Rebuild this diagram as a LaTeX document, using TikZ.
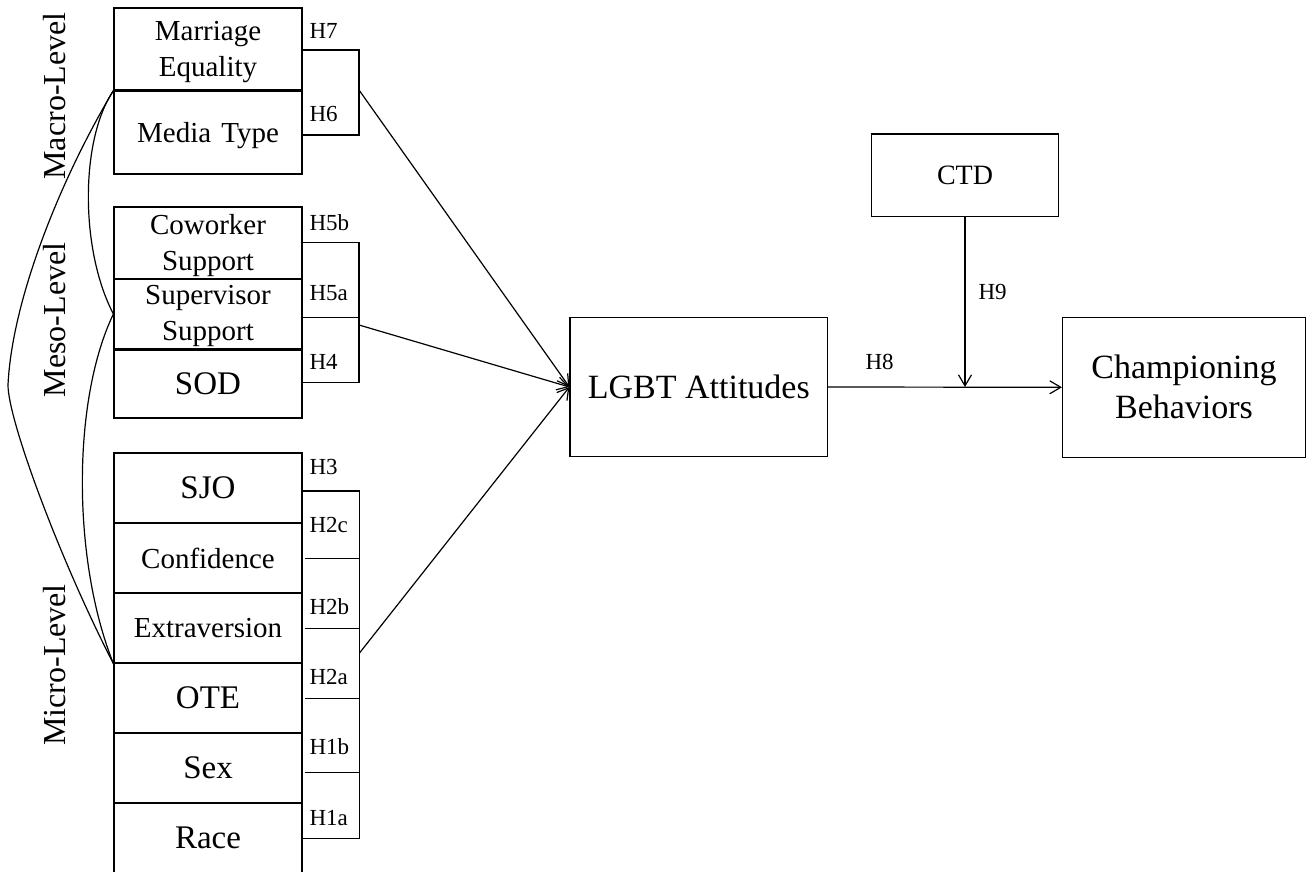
\documentclass[tikz,border=0pt]{standalone}
\usepackage{fontspec}
\setmainfont{Liberation Serif}
\usetikzlibrary{arrows.meta}
\begin{document}
\begin{tikzpicture}[x=0.5pt,y=-0.5pt,line width=0.6pt,
  box/.style={draw, line width=0.6pt, inner sep=0pt, align=center, minimum width=94pt},
  sfont/.style={font=\fontsize{14.5pt}{18pt}\selectfont},
  bfont/.style={font=\fontsize{16.5pt}{20pt}\selectfont},
  hl/.style={font=\fontsize{11.5pt}{13pt}\selectfont, inner sep=0pt, anchor=west},
  lvl/.style={font=\fontsize{16pt}{18pt}\selectfont, rotate=90, inner sep=0pt},
  arr/.style={-{Straight Barb[length=5.5pt,width=6.5pt]}, line width=0.6pt},
  thickdiv/.style={line width=1.4pt}
]
\useasboundingbox (0,0) rectangle (1307,872);

% ---------- Macro level ----------
\node[box, sfont, minimum height=41pt] (me) at (208,49) {\rule{0pt}{13pt}Marriage\\Equality};
\node[box, sfont, minimum height=42pt, text depth=0pt] (mt) at (208,132) {Media\hspace{0.35em}Type};
\draw[thickdiv] (me.south west) -- (me.south east);

% ---------- Meso level ----------
\node[box, sfont, minimum height=36pt] (cs) at (208,243) {\rule{0pt}{13pt}Coworker\\Support};
\node[box, sfont, minimum height=35pt] (ss) at (208,314) {\rule{0pt}{12pt}Supervisor\\Support};
\node[box, bfont, minimum height=34.5pt] (sod) at (208,383.5) {SOD};
\draw[thickdiv] (ss.south west) -- (ss.south east);

% ---------- Micro level ----------
\node[box, bfont, minimum height=35pt] (sjo) at (208,488) {SJO};
\node[box, sfont, minimum height=35pt] (conf) at (208,558) {Confidence};
\node[box, sfont, minimum height=35pt] (extra) at (208,628) {Extraversion};
\node[box, bfont, minimum height=35pt] (ote) at (208,698) {OTE};
\node[box, bfont, minimum height=35pt] (sex) at (208,768) {Sex};
\node[box, bfont, minimum height=35pt] (race) at (208,838) {Race};

% ---------- Level labels ----------
\node[lvl] (macro) at (55,96) {Macro-Level};
\node[lvl] (meso) at (55,320) {Meso-Level};
\node[lvl] (micro) at (55,665) {Micro-Level};

% ---------- Curves linking levels ----------
\draw (me.south west) .. controls (80,140) and (80,250) .. (ss.west);
\draw (me.south west) .. controls (60,180) and (12,300) .. (8,385)
      .. controls (8,420) and (60,560) .. (extra.south west);
\draw (ss.west) .. controls (72,400) and (72,560) .. (extra.south west);

% ---------- Brackets ----------
\draw (302,50) -- (359,50) -- (359,135) -- (302,135);
\draw (302,242.7) -- (359,242.7) -- (359,382.7) -- (302,382.7);
\draw (302,317.3) -- (359,317.3);
\draw (303,491) -- (359.5,491) -- (359.5,838.3) -- (303,838.3);
\foreach \yy in {558.3,628.3,698.3,772.7}
  \draw (305,\yy) -- (360,\yy);

\coordinate (macroout) at (359,90);
\coordinate (mesoout) at (359,325);
\coordinate (microout) at (359.5,653);

% ---------- Hypothesis labels ----------
\node[hl] (h7) at (309,31) {H7};
\node[hl] (h6) at (309,114) {H6};
\node[hl] (h5b) at (309,223) {H5b};
\node[hl] (h5a) at (309,293) {H5a};
\node[hl] (h4) at (309,362) {H4};
\node[hl] (h3) at (309,467) {H3};
\node[hl] (h2c) at (309,525) {H2c};
\node[hl] (h2b) at (309,607) {H2b};
\node[hl] (h2a) at (309,677) {H2a};
\node[hl] (h1b) at (309,747) {H1b};
\node[hl] (h1a) at (309,818) {H1a};

% ---------- Right part ----------
\node[box, font=\fontsize{17pt}{20pt}\selectfont, minimum width=128.8pt, minimum height=69.7pt] (lgbt) at (698.8,387) {LGBT Attitudes};
\node[box, font=\fontsize{17pt}{20pt}\selectfont, minimum width=121.5pt, minimum height=70pt] (cb) at (1184,387.3) {Championing\\Behaviors};
\node[box, font=\fontsize{14pt}{17pt}\selectfont, minimum width=93.8pt, minimum height=41.3pt] (ctd) at (965,175.3) {CTD};
\coordinate (mod) at (965,387);

\draw[arr] (macroout) -- (lgbt.west);
\draw[arr] (mesoout) -- (lgbt.west);
\draw[arr] (microout) -- (lgbt.west);
\draw[arr] (lgbt.east) -- (cb.west);
\draw[arr] (ctd.south) -- (mod);

\node[hl] (h8) at (865,362) {H8};
\node[hl] (h9) at (978,292) {H9};
\end{tikzpicture}
\end{document}
